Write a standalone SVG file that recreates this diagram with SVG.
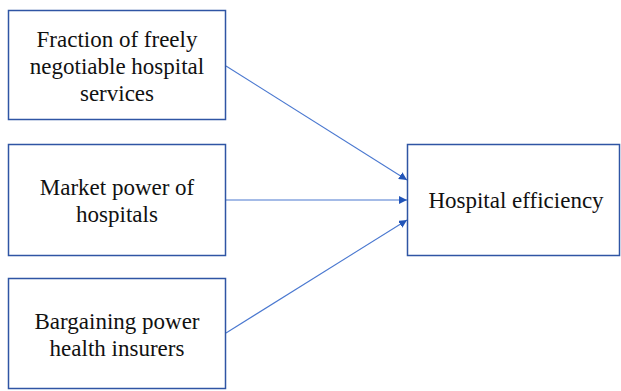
<svg xmlns="http://www.w3.org/2000/svg" width="621" height="391" viewBox="0 0 621 391">
<style>
.box{fill:#fff;stroke:#2F55A4;stroke-width:1.5}
.lbl{font-family:"Liberation Serif","Times New Roman",serif;font-size:23px;fill:#111;text-anchor:middle}
.conn{stroke:#4A78D0;stroke-width:1.1;fill:none;marker-end:url(#ah)}
</style>
<defs>
<marker id="ah" viewBox="0 0 10 10" refX="10" refY="5" markerWidth="8" markerHeight="8" markerUnits="userSpaceOnUse" orient="auto">
<path d="M0,0 L10,5 L0,10 Z" fill="#2255B8"/>
</marker>
</defs>
<rect width="621" height="391" fill="#fff"/>
<g id="connectors">
<line class="conn" x1="226" y1="66" x2="407" y2="180"/>
<line class="conn" x1="226" y1="200" x2="407" y2="200"/>
<line class="conn" x1="226" y1="333" x2="407" y2="220"/>
</g>
<g id="n1">
<rect class="box" x="8.5" y="10.5" width="217" height="109"/>
<text class="lbl" x="117" y="47">Fraction of freely</text>
<text class="lbl" x="117" y="74">negotiable hospital</text>
<text class="lbl" x="117" y="101">services</text>
</g>
<g id="n2">
<rect class="box" x="8.5" y="144.5" width="217" height="111"/>
<text class="lbl" x="117" y="195">Market power of</text>
<text class="lbl" x="117" y="222">hospitals</text>
</g>
<g id="n3">
<rect class="box" x="8.5" y="278.5" width="217" height="110"/>
<text class="lbl" x="117" y="329">Bargaining power</text>
<text class="lbl" x="117" y="356">health insurers</text>
</g>
<g id="n4">
<rect class="box" x="407.5" y="144.5" width="212" height="111"/>
<text class="lbl" x="516" y="208">Hospital efficiency</text>
</g>
</svg>
